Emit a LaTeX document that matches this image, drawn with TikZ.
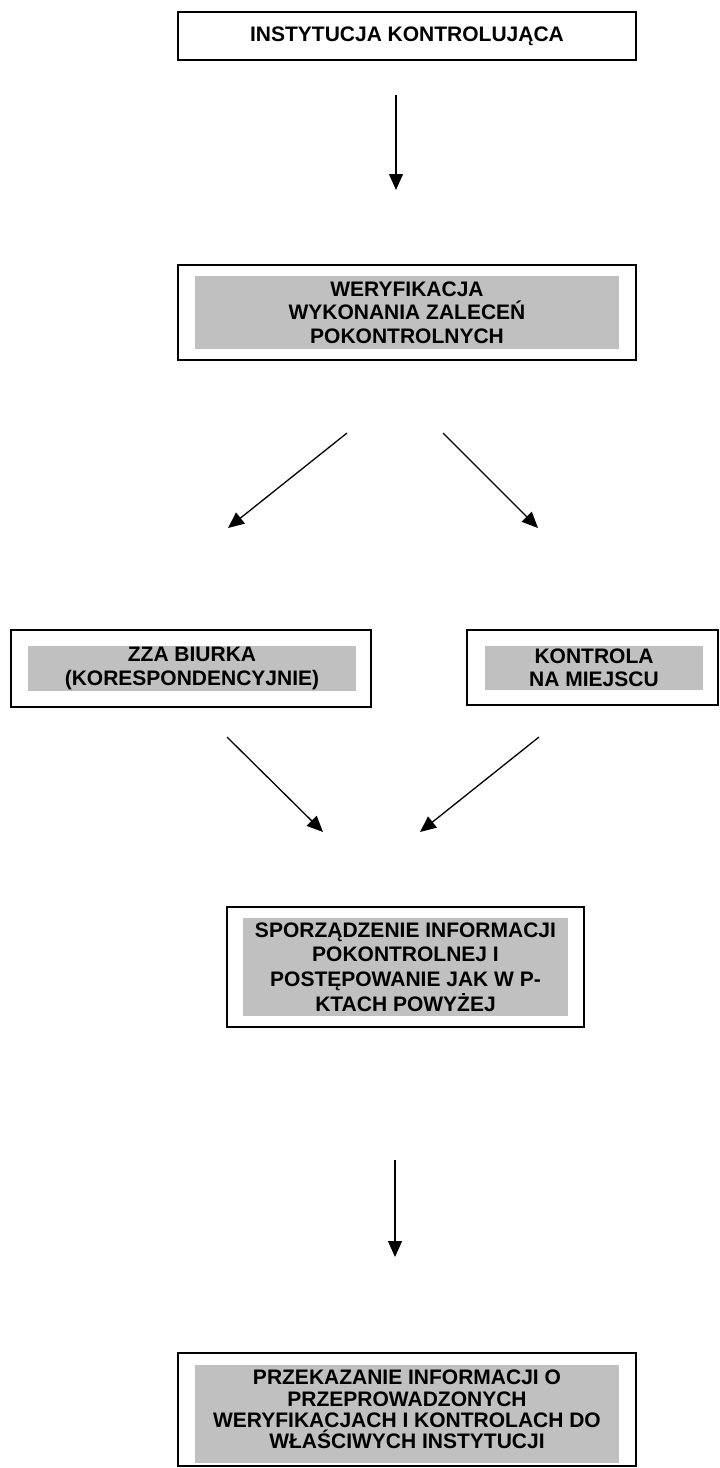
\documentclass[tikz,border=0pt]{standalone}
\usepackage{fontspec}
\setmainfont{Liberation Sans}
\usetikzlibrary{arrows.meta}
\definecolor{boxgrey}{RGB}{192,192,192}
\begin{document}
\begin{tikzpicture}[x=1pt,y=-1pt,
  outerbox/.style={draw=black, line width=1.6pt, fill=white, inner sep=0pt, outer sep=0pt},
  greybox/.style={fill=boxgrey, inner sep=0pt, outer sep=0pt, align=center,
     font=\fontsize{21}{23.5}\selectfont\bfseries},
  boxtext/.style={inner sep=0pt, outer sep=0pt, align=center,
     font=\fontsize{21}{21.2}\selectfont\bfseries},
  arr/.style={line width=1.3pt, -{Triangle[length=16pt,width=14pt]}}
]
\useasboundingbox (0,0) rectangle (720,1468);
% box 1
\node[outerbox, minimum width=458pt, minimum height=48pt,
      font=\fontsize{21}{23.5}\selectfont\bfseries] (b1) at (407,36) {INSTYTUCJA KONTROLUJĄCA};
% box 2
\node[outerbox, minimum width=458pt, minimum height=95pt] (b2) at (407,312.5) {};
\node[greybox, minimum width=424pt, minimum height=73pt] (g2) at (407,312.5)
  {WERYFIKACJA\\WYKONANIA ZALECEŃ\\POKONTROLNYCH};
% left box
\node[outerbox, minimum width=360pt, minimum height=77pt] (b3) at (191,668.5) {};
\node[greybox, minimum width=328pt, minimum height=45pt] (g3) at (192,668.5)
  {ZZA BIURKA\\(KORESPONDENCYJNIE)};
% right box
\node[outerbox, minimum width=251pt, minimum height=75pt] (b4) at (592.5,667.5) {};
\node[greybox, minimum width=218pt, minimum height=44pt] (g4) at (594,668)
  {KONTROLA\\NA MIEJSCU};
% box 4
\node[outerbox, minimum width=357pt, minimum height=120pt] (b5) at (405.5,967) {};
\node[greybox, minimum width=325pt, minimum height=98pt,
      font=\fontsize{21}{24.6}\selectfont\bfseries] (g5) at (405.5,967)
  {SPORZĄDZENIE INFORMACJI\\POKONTROLNEJ I\\POSTĘPOWANIE JAK W P-\\KTACH POWYŻEJ};
% box 5
\node[outerbox, minimum width=458pt, minimum height=113pt] (b6) at (407,1409.5) {};
\node[greybox, minimum width=424pt, minimum height=98pt] (g6) at (407,1414) {};
\node[boxtext] (t6) at (407,1409.5)
  {PRZEKAZANIE INFORMACJI O\\PRZEPROWADZONYCH\\WERYFIKACJACH I KONTROLACH DO\\WŁAŚCIWYCH INSTYTUCJI};
% arrow end points
\coordinate (a1s) at (396,95);   \coordinate (a1e) at (396,190);
\coordinate (a2s) at (347,433);  \coordinate (a2e) at (228,528);
\coordinate (a3s) at (443,433);  \coordinate (a3e) at (538,528);
\coordinate (a4s) at (227,737);  \coordinate (a4e) at (323,832);
\coordinate (a5s) at (539,737);  \coordinate (a5e) at (420,832);
\coordinate (a6s) at (395,1160); \coordinate (a6e) at (395,1257);
\draw[arr] (a1s) -- (a1e);
\draw[arr] (a2s) -- (a2e);
\draw[arr] (a3s) -- (a3e);
\draw[arr] (a4s) -- (a4e);
\draw[arr] (a5s) -- (a5e);
\draw[arr] (a6s) -- (a6e);
\end{tikzpicture}
\end{document}
